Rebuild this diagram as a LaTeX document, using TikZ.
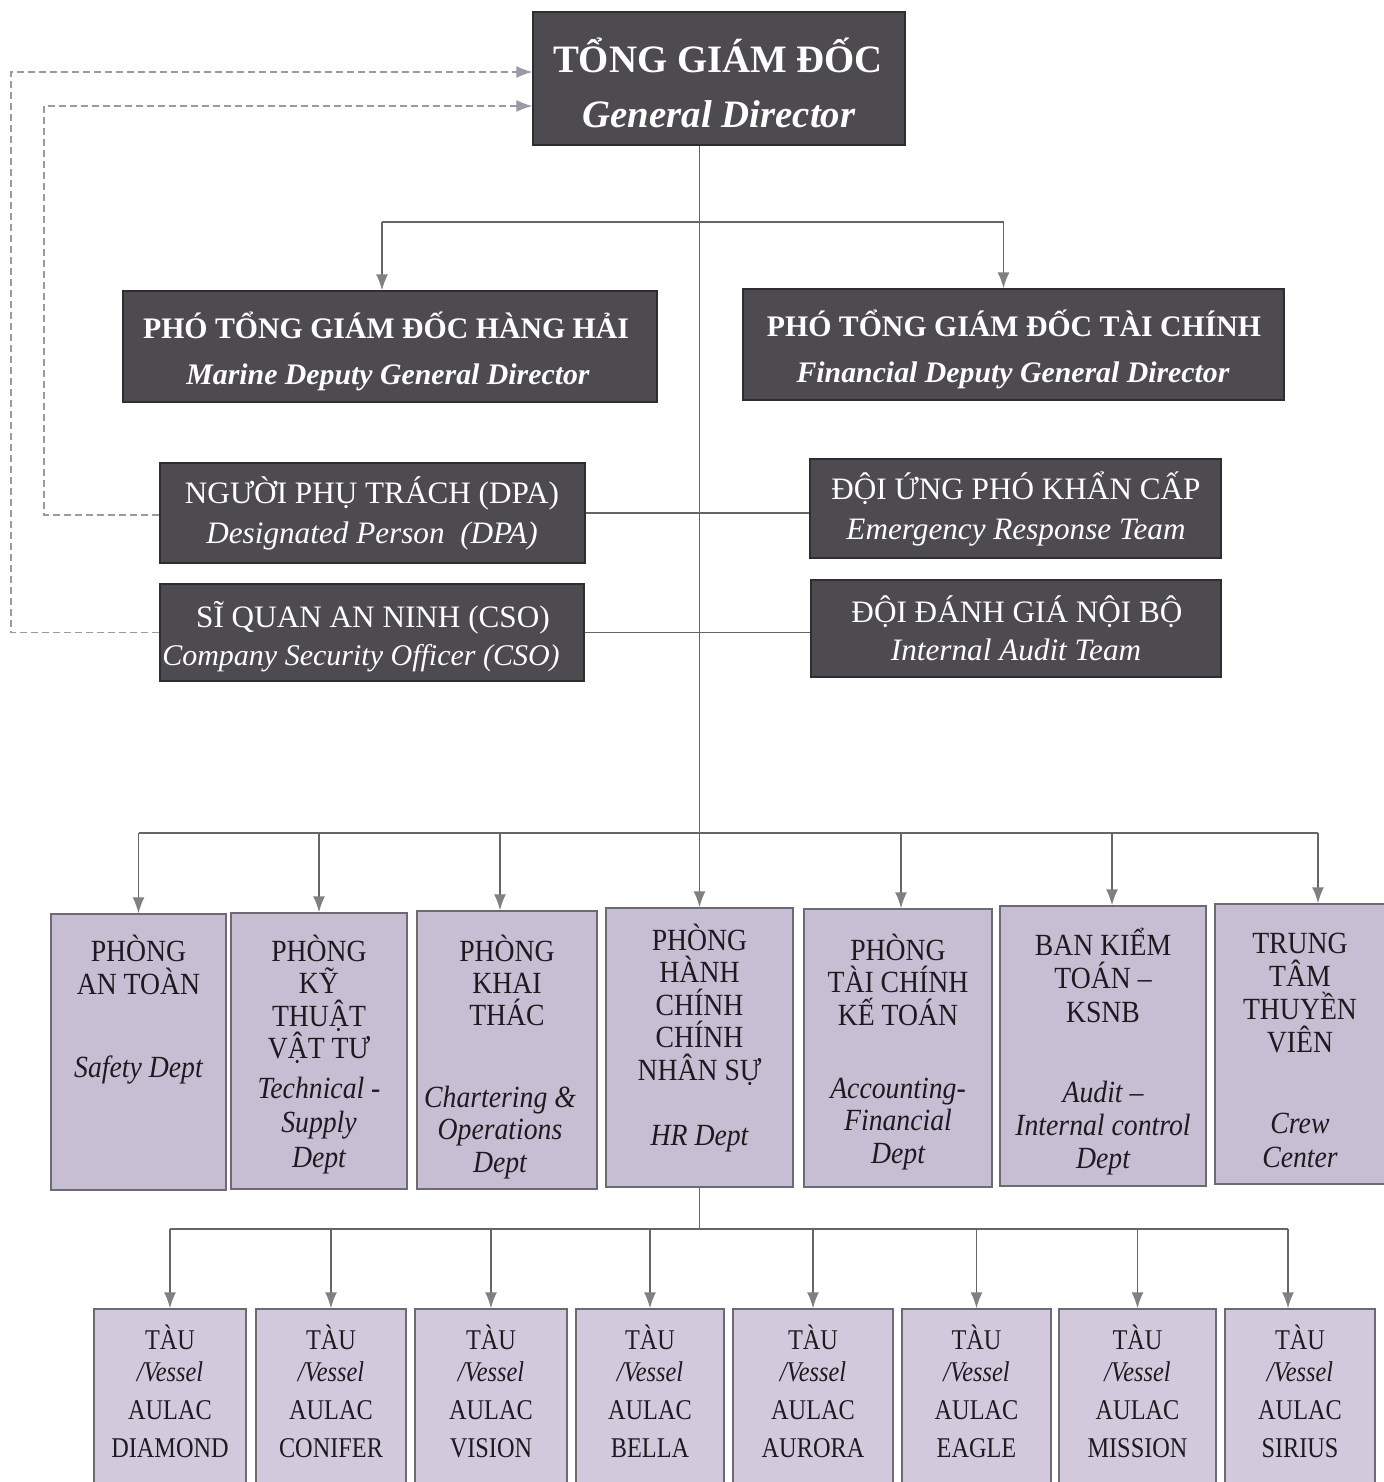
\documentclass[tikz,border=0pt]{standalone}
\usepackage{fontspec}
\setmainfont{Liberation Serif}
\newfontfamily\lvthree{Liberation Serif}[FakeStretch=0.9]
\newfontfamily\lvfour{Liberation Serif}[FakeStretch=0.85]
\usetikzlibrary{arrows.meta}
\definecolor{darkfill}{HTML}{4D4B50}
\definecolor{darkedge}{HTML}{2E2D30}
\definecolor{lavfill}{HTML}{C8BED4}
\definecolor{vesfill}{HTML}{D2CADC}
\definecolor{lavedge}{HTML}{6E6A74}
\definecolor{linec}{HTML}{656565}
\definecolor{tipc}{HTML}{808080}
\definecolor{dashc}{HTML}{9A9AA6}
\definecolor{ink}{HTML}{1C1B1E}
\begin{document}
\begin{tikzpicture}[x=0.5pt,y=-0.5pt,
  dbox/.style={draw=darkedge,fill=darkfill,line width=0.7pt,inner sep=0pt},
  lbox/.style={draw=lavedge,fill=lavfill,line width=0.7pt,inner sep=0pt},
  vesbox/.style={draw=lavedge,fill=vesfill,line width=0.7pt,inner sep=0pt},
  wtext/.style={text=white,anchor=base,inner sep=0pt},
  btext/.style={text=ink,anchor=base,inner sep=0pt},
  fgd/.style={font=\fontsize{19.4}{23}\selectfont\bfseries},
  fgdi/.style={font=\fontsize{19.4}{23}\selectfont\bfseries\itshape},
  fdep/.style={font=\fontsize{14.9}{18}\selectfont\bfseries},
  fdepi/.style={font=\fontsize{14.9}{18}\selectfont\bfseries\itshape},
  fmid/.style={font=\fontsize{15.6}{19}\selectfont},
  fmidi/.style={font=\fontsize{15.6}{19}\selectfont\itshape},
  fdpt/.style={font=\lvthree\fontsize{15.4}{18}\selectfont},
  fdpti/.style={font=\lvthree\fontsize{15.4}{18}\selectfont\itshape},
  fves/.style={font=\lvfour\fontsize{14.3}{17}\selectfont},
  fvesi/.style={font=\lvfour\fontsize{14.3}{17}\selectfont\itshape},
  conn/.style={draw=linec,line width=0.8pt},
  arr/.style={conn,-{Latex[length=8pt,width=6pt,color=tipc]}},
  dashl/.style={draw=dashc,line width=0.6pt,dash pattern=on 3.5pt off 2pt},
  darr/.style={dashl,-{Latex[length=8pt,width=6pt,color=dashc]}},
]
\useasboundingbox (0,0) rectangle (1384,1482);
\fill[white] (0,0) rectangle (1384,1482);

% ---------- top ----------
\node[dbox,minimum width=186pt,minimum height=66.5pt] (gd) at (719,78.5) {};
\node[wtext,fgd] (gd-t1) at (718,73) {TỔNG GIÁM ĐỐC};
\node[wtext,fgdi] (gd-t2) at (719,128) {General Director};

% ---------- deputies ----------
\node[dbox,minimum width=267pt,minimum height=55.5pt] (marine) at (390,346.5) {};
\node[wtext,fdep] (marine-t1) at (386,338) {PHÓ TỔNG GIÁM ĐỐC HÀNG HẢI};
\node[wtext,fdepi] (marine-t2) at (388,384) {Marine Deputy General Director};

\node[dbox,minimum width=270.5pt,minimum height=55.5pt] (fin) at (1013.5,344.5) {};
\node[wtext,fdep] (fin-t1) at (1014,336) {PHÓ TỔNG GIÁM ĐỐC TÀI CHÍNH};
\node[wtext,fdepi] (fin-t2) at (1013,382) {Financial Deputy General Director};

% ---------- middle boxes ----------
\node[dbox,minimum width=212.5pt,minimum height=50pt] (dpa) at (372.5,513) {};
\node[wtext,fmid] (dpa-t1) at (372,503) {NGƯỜI PHỤ TRÁCH (DPA)};
\node[wtext,fmidi] (dpa-t2) at (372,543) {Designated Person\ \ (DPA)};

\node[dbox,minimum width=212pt,minimum height=48.5pt] (cso) at (372,632.5) {};
\node[wtext,fmid] (cso-t1) at (373,627) {SĨ QUAN AN NINH (CSO)};
\node[wtext,fmidi,font=\fontsize{15}{18}\selectfont\itshape] (cso-t2) at (361,665) {Company Security Officer (CSO)};

\node[dbox,minimum width=205.5pt,minimum height=49.5pt] (ert) at (1015.5,508.5) {};
\node[wtext,fmid] (ert-t1) at (1016,499) {ĐỘI ỨNG PHÓ KHẨN CẤP};
\node[wtext,fmidi] (ert-t2) at (1016,539) {Emergency Response Team};

\node[dbox,minimum width=205pt,minimum height=48.5pt] (iat) at (1016,628.5) {};
\node[wtext,fmid] (iat-t1) at (1017,622) {ĐỘI ĐÁNH GIÁ NỘI BỘ};
\node[wtext,fmidi] (iat-t2) at (1016,660) {Internal Audit Team};

% ---------- departments ----------
\node[lbox,minimum width=87.5pt,minimum height=138pt] (safe) at (138.5,1052) {};
\foreach \s [count=\i from 0] in {PHÒNG,AN TOÀN}
  \node[btext,fdpt] (safe-v\i) at (138.5,{961+33*\i}) {\s};
\node[btext,fdpti] (safe-e0) at (138.5,1077) {Safety Dept};

\node[lbox,minimum width=88pt,minimum height=138pt] (tech) at (319,1051) {};
\foreach \s [count=\i from 0] in {PHÒNG,KỸ,THUẬT,VẬT TƯ}
  \node[btext,fdpt] (tech-v\i) at (319,{961+32.5*\i}) {\s};
\foreach \s [count=\i from 0] in {Technical -,Supply,Dept}
  \node[btext,fdpti] (tech-e\i) at (319,{1098+34.5*\i}) {\s};

\node[lbox,minimum width=90pt,minimum height=139pt] (char) at (507,1050) {};
\foreach \s [count=\i from 0] in {PHÒNG,KHAI,THÁC}
  \node[btext,fdpt] (char-v\i) at (507,{961+32*\i}) {\s};
\foreach \s [count=\i from 0] in {Chartering \&,Operations,Dept}
  \node[btext,fdpti] (char-e\i) at (500,{1107+32.5*\i}) {\s};

\node[lbox,minimum width=93.5pt,minimum height=139.5pt] (hr) at (699.5,1047.5) {};
\foreach \s [count=\i from 0] in {PHÒNG,HÀNH,CHÍNH,CHÍNH,NHÂN SỰ}
  \node[btext,fdpt] (hr-v\i) at (699.5,{950+32.5*\i}) {\s};
\node[btext,fdpti] (hr-e0) at (699.5,1145) {HR Dept};

\node[lbox,minimum width=94pt,minimum height=139pt] (acc) at (898,1048) {};
\foreach \s [count=\i from 0] in {PHÒNG,TÀI CHÍNH,KẾ TOÁN}
  \node[btext,fdpt] (acc-v\i) at (898,{960+32.5*\i}) {\s};
\foreach \s [count=\i from 0] in {Accounting-,Financial,Dept}
  \node[btext,fdpti] (acc-e\i) at (898,{1098+32.5*\i}) {\s};

\node[lbox,minimum width=103pt,minimum height=140pt] (aud) at (1103,1046) {};
\foreach \s [count=\i from 0] in {BAN KIỂM,TOÁN –,KSNB}
  \node[btext,fdpt] (aud-v\i) at (1103,{955+33.5*\i}) {\s};
\foreach \s [count=\i from 0] in {Audit –,Internal control,Dept}
  \node[btext,fdpti] (aud-e\i) at (1103,{1102+33*\i}) {\s};

\node[lbox,minimum width=87.5pt,minimum height=140pt] (crew) at (1302.5,1044) {};
\foreach \s [count=\i from 0] in {TRUNG,TÂM,THUYỀN,VIÊN}
  \node[btext,fdpt] (crew-v\i) at (1300,{953+33*\i}) {\s};
\foreach \s [count=\i from 0] in {Crew,Center}
  \node[btext,fdpti] (crew-e\i) at (1300,{1133+34*\i}) {\s};

% ---------- vessels ----------
\foreach \nm/\cx/\w/\lbl in {v1/170/76/DIAMOND,v2/331/75/CONIFER,v3/491/76/VISION,
    v4/650/74/BELLA,v5/813/80/AURORA,v6/976.5/74.5/EAGLE,v7/1137.5/78.5/MISSION,v8/1300/75/SIRIUS}{
  \node[vesbox,minimum width=\w pt,minimum height=90.5pt] (\nm) at (\cx,1399.5) {};
  \node[btext,fves] (\nm-a) at (\cx,1349) {TÀU};
  \node[btext,fvesi] (\nm-b) at (\cx,1381) {/Vessel};
  \node[btext,fves] (\nm-c) at (\cx,1419) {AULAC};
  \node[btext,fves] (\nm-d) at (\cx,1457) {\lbl};
}

% ---------- connectors ----------
\draw[arr] (gd.south -| hr.north) -- (hr.north);
\coordinate (br) at (700,222);
\coordinate (ma) at ([xshift=-4pt]marine.north);
\coordinate (fa) at ([xshift=-5pt]fin.north);
\draw[conn] (ma |- br) -- (fa |- br);
\draw[arr] (ma |- br) -- (ma);
\draw[arr] (fa |- br) -- (fa);

\draw[conn] (dpa.east) -- (dpa.east -| ert.west);
\draw[conn] (cso.east) -- (cso.east -| iat.west);

\coordinate (o1) at (11,0);
\coordinate (o2) at (44,0);
\draw[darr] (cso.west) -- (cso.west -| o1) |- ([yshift=3.25pt]gd.west);
\draw[darr] ([yshift=-1pt]dpa.west) -- ([yshift=-1pt]dpa.west -| o2) |- ([yshift=-13.75pt]gd.west);

\coordinate (bus3) at (700,833);
\coordinate (a1) at (safe.north);
\coordinate (a2) at (tech.north);
\coordinate (a3) at ([xshift=-3.5pt]char.north);
\coordinate (a5) at ([xshift=1.5pt]acc.north);
\coordinate (a6) at ([xshift=4.5pt]aud.north);
\coordinate (a7) at ([xshift=7.75pt]crew.north);
\draw[conn] (a1 |- bus3) -- (a7 |- bus3);
\foreach \a in {a1,a2,a3,a5,a6,a7}
  \draw[arr] (\a |- bus3) -- (\a);

\coordinate (bus4) at (700,1229);
\coordinate (b8) at ([xshift=-6pt]v8.north);
\draw[conn] (hr.south) -- (hr.south |- bus4);
\draw[conn] (v1.north |- bus4) -- (b8 |- bus4);
\foreach \b in {v1.north,v2.north,v3.north,v4.north,v5.north,v6.north,v7.north,b8}
  \draw[arr] (\b |- bus4) -- (\b);
\end{tikzpicture}
\end{document}
